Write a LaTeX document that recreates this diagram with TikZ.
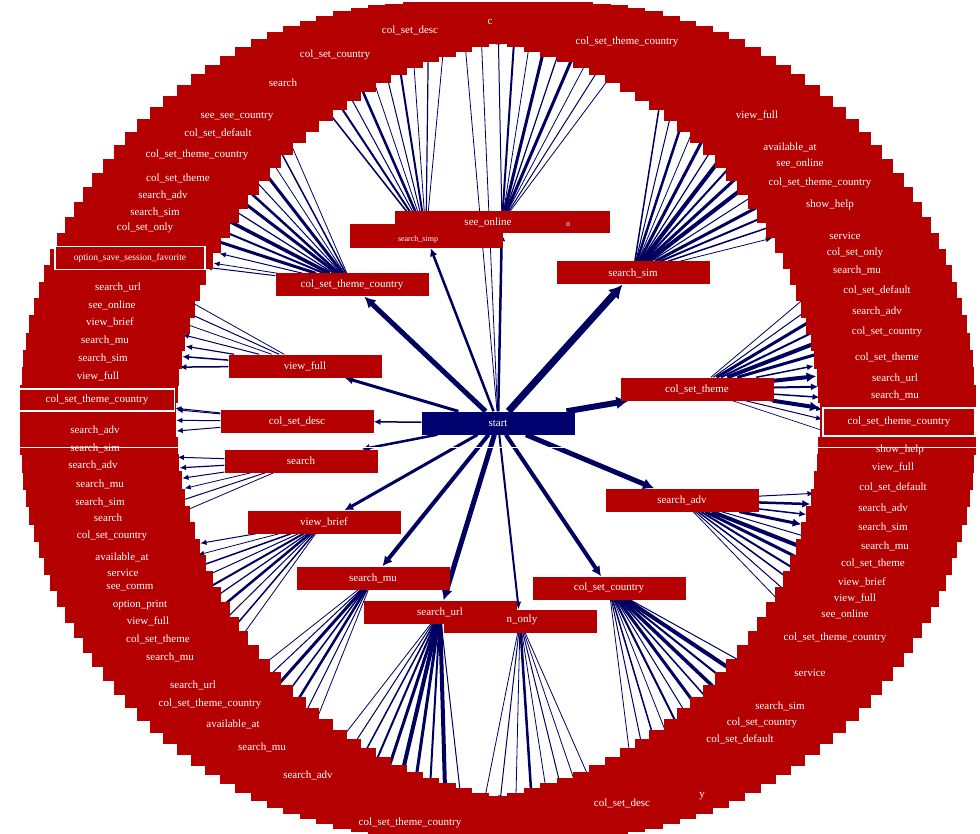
\documentclass[tikz,border=0pt]{standalone}
\usepackage{fontspec}
\setmainfont{Liberation Serif}
\usetikzlibrary{arrows.meta}
\pgfdeclarelayer{bg}
\pgfsetlayers{bg,main}
\definecolor{ringred}{RGB}{180,0,0}
\definecolor{navy}{RGB}{0,0,96}
\definecolor{startblue}{RGB}{0,0,110}
\begin{document}
\begin{tikzpicture}[x=1pt,y=-1pt,
  ringbox/.style={rectangle, fill=ringred, minimum width=156pt, minimum height=36pt, inner sep=0pt},
  lbl/.style={text=white, font=\fontsize{11}{12}\selectfont, inner sep=0pt},
  inbox/.style={rectangle, fill=ringred, minimum width=153pt, minimum height=23pt, inner sep=0pt, text=white, font=\fontsize{11}{12}\selectfont},
  specbox/.style={inbox, draw=white, line width=1.5pt},
  edge/.style={draw=navy, -{Latex[length=5pt 1.2, width=4pt 1.5]}},
]
\useasboundingbox (0,0) rectangle (980,834);
% outer ring of nodes
\foreach \k in {0,...,143}{
  \node[ringbox] (r\k) at ({498+400*cos(\k*2.5)},{420-400*sin(\k*2.5)}) {};
}
% outer labels
\foreach \x/\y/\t [count=\i] in {
 410/30/col\_set\_desc, 335/55/col\_set\_country, 283/83/search, 237/117/see\_see\_country,
 218/133/col\_set\_default, 197/155/col\_set\_theme\_country, 178/178/col\_set\_theme,
 163/195/search\_adv, 155/212/search\_sim, 145/228/col\_set\_only,
 118/287/search\_url, 112/305/see\_online, 110/322/view\_brief, 105/340/search\_mu,
 103/358/search\_sim, 98/376/view\_full,
 95/430/search\_adv, 95/448/search\_sim, 93/465/search\_adv, 100/484/search\_mu,
 100/502/search\_sim, 108/518/search, 112/536/col\_set\_country, 122/557/available\_at,
 123/573/service, 130/588/see\_comm, 140/605/option\_print, 148/621/view\_full,
 158/639/col\_set\_theme, 170/657/search\_mu, 193/685/search\_url,
 210/704/col\_set\_theme\_country, 233/724/available\_at, 262/747/search\_mu,
 308/775/search\_adv, 410/823/col\_set\_theme\_country,
 622/803/col\_set\_desc, 702/796/y, 740/739/col\_set\_default, 762/723/col\_set\_country,
 780/706/search\_sim, 810/673/service, 835/638/col\_set\_theme\_country,
 845/614/see\_online, 855/598/view\_full, 862/582/view\_brief, 873/563/col\_set\_theme,
 885/546/search\_mu, 883/527/search\_sim, 883/508/search\_adv, 893/487/col\_set\_default,
 893/467/view\_full, 900/450/show\_help,
 895/395/search\_mu, 895/378/search\_url, 887/357/col\_set\_theme, 887/332/col\_set\_country,
 877/311/search\_adv, 877/290/col\_set\_default, 857/270/search\_mu, 855/253/col\_set\_only,
 845/236/service, 830/205/show\_help, 820/183/col\_set\_theme\_country, 800/163/see\_online,
 790/147/available\_at, 757/115/view\_full, 627/42/col\_set\_theme\_country, 490/22/c}{
  \node[lbl] (l\i) at (\x,\y) {\t};
}
% outer nodes with white border
\node[specbox, minimum width=155pt, minimum height=22pt] (sl) at (97,400) {col\_set\_theme\_country};
\node[specbox, minimum width=152pt, minimum height=28pt] (sr) at (899,422) {col\_set\_theme\_country};
\node[specbox, minimum width=150pt, minimum height=23pt, font=\fontsize{9.5}{11}\selectfont] (so) at (130,258) {option\_save\_session\_favorite};
% second level
\node[inbox] (ctc) at (352,285) {col\_set\_theme\_country};
\node[inbox, minimum height=24pt] (sb) at (426,236) {};
\node[lbl, font=\fontsize{8}{9}\selectfont] (sbt) at (418,240) {search\_simp};
\node[inbox, minimum width=215pt, minimum height=22pt] (sa) at (502,222) {};
\node[lbl] (sat) at (488,222) {see\_online};
\node[lbl, font=\fontsize{8}{9}\selectfont] (san) at (568,225) {n};
\node[inbox] (ss) at (633,273) {search\_sim};
\node[inbox] (vf) at (305,366) {view\_full};
\node[inbox] (cst) at (697,389) {col\_set\_theme};
\node[inbox] (csd) at (297,421) {col\_set\_desc};
\node[inbox] (se) at (301,461) {search};
\node[inbox] (sadv) at (682,500) {search\_adv};
\node[inbox] (vb) at (324,522) {view\_brief};
\node[inbox] (smu) at (373,578) {search\_mu};
\node[inbox] (csc) at (609,588) {col\_set\_country};
\node[inbox] (no) at (520,621) {};
\node[inbox] (su) at (440,612) {search\_url};
\node[lbl] (not) at (522,620) {n\_only};
\node[inbox, fill=startblue] (start) at (498,423) {start};
% edges
\begin{pgfonlayer}{bg}
\foreach \t/\w in {ctc/5, sb/2.5, sa/2.5, ss/7, vf/3, cst/6, csd/1.5, se/2.5, sadv/5, vb/3, smu/4, su/5, no/2, csc/4, r37/0.8, r38/0.8}{
  \draw[edge, line width=\w pt] (start) -- (\t);
}
\foreach \t/\w in {r50/0.8, r51/1.5, r52/0.8, r53/3, r54/1, r55/2.5, r56/3, r57/1.2, r58/3.5, r59/2, r60/3, r61/1, r62/0.8, so/1}{
  \draw[edge, line width=\w pt] (ctc) -- (\t);
}
\foreach \k/\w in {39/0.8, 40/1.2, 41/0.8, 42/2, 43/1, 44/0.8, 45/2.5, 46/1, 47/2, 48/1.5}{
  \draw[edge, line width=\w pt] (sb) -- (r\k);
}
\foreach \k/\w in {28/0.8, 29/1, 30/0.8, 31/3, 32/1.2, 33/3, 34/0.8, 35/2, 36/1}{
  \draw[edge, line width=\w pt] (sa) -- (r\k);
}
\foreach \k/\w in {12/0.8, 13/1.5, 14/2, 15/3, 16/1, 17/4, 18/3, 19/2, 20/4, 21/1.2, 22/3, 23/0.8, 24/2.5, 25/1, 26/1.5}{
  \draw[edge, line width=\w pt] (ss) -- (r\k);
}
\foreach \t/\w in {r9/1, r10/0.8, r8/3, r7/2, r6/4, r5/3, r4/1.5, r3/4, r2/2, r1/1.5, r0/4, r143/1, r142/0.7, sr/0.7}{
  \draw[edge, line width=\w pt] (cst) -- (\t);
}
\foreach \k/\w in {130/0.8, 131/1, 132/1.5, 133/2, 134/3, 135/4, 136/1, 137/3, 138/1.5, 139/2.5, 140/1}{
  \draw[edge, line width=\w pt] (sadv) -- (r\k);
}
\foreach \k/\w in {116/0.8, 117/1, 118/1.5, 119/0.8, 120/2, 121/1, 122/3, 123/1.5, 124/3.5, 125/2, 126/4, 127/1}{
  \draw[edge, line width=\w pt] (csc) -- (r\k);
}
\foreach \k/\w in {107/0.8, 108/1, 109/0.8, 110/2.5, 111/0.8, 112/1, 113/0.8, 114/0.8}{
  \draw[edge, line width=\w pt] (no) -- (r\k);
}
\foreach \k/\w in {97/0.8, 98/1, 99/1.5, 100/2, 101/3, 102/4, 103/3, 104/2, 105/4, 106/1}{
  \draw[edge, line width=\w pt] (su) -- (r\k);
}
\foreach \k/\w in {90/0.8, 91/1, 92/3, 93/1.5, 94/2.5, 95/1, 96/0.8}{
  \draw[edge, line width=\w pt] (smu) -- (r\k);
}
\foreach \k/\w in {80/1, 81/0.8, 82/1.5, 83/1, 84/2, 85/1.2, 86/2.5, 87/1, 88/1.5, 89/0.8}{
  \draw[edge, line width=\w pt] (vb) -- (r\k);
}
\foreach \k/\w in {74/1, 75/1.2, 76/1, 77/0.8, 78/1, 79/0.8}{
  \draw[edge, line width=\w pt] (se) -- (r\k);
}
\foreach \t/\w in {r71/1, r72/1, r73/1, sl/1}{
  \draw[edge, line width=\w pt] (csd) -- (\t);
}
\foreach \k/\w in {63/0.8, 64/1, 65/0.8, 66/1, 67/1.2, 68/1.5, 69/1.5}{
  \draw[edge, line width=\w pt] (vf) -- (r\k);
}
\end{pgfonlayer}
% horizontal seam
\draw[white, line width=0.8pt] (0,447) -- (980,447);
\end{tikzpicture}
\end{document}
